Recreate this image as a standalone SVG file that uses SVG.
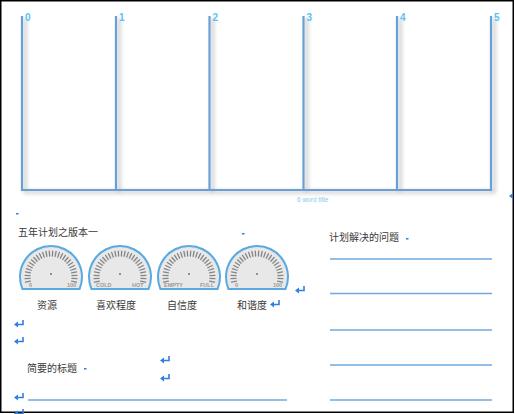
<svg xmlns="http://www.w3.org/2000/svg" xmlns:xlink="http://www.w3.org/1999/xlink" width="515" height="414" viewBox="0 0 515 414">
<style>
.cn{font-family:"Noto Sans CJK SC","Liberation Sans",sans-serif;font-size:10px;fill:#3a3a3a}
.num{font-family:"Liberation Sans",Arial,sans-serif;font-size:10px;font-weight:bold;fill:#5cc3f0}
.tl{stroke:#6b9fd6;stroke-width:2.2;fill:none}
.rule{stroke:#6fa8dc;stroke-width:1.4}
.gbody{fill:#e8e8e8;stroke:#5aa9e0;stroke-width:2}
.tk{stroke:#858585;stroke-width:1.3;stroke-linecap:round}
.gl{font-family:"Liberation Sans",Arial,sans-serif;font-size:5.5px;font-weight:bold;fill:#9a9a9a}
.ret{fill:none;stroke:#2f7fe0;stroke-width:1.6}
.reth{fill:#2f7fe0}
</style>
<defs>
<filter id="sh" x="-20%" y="-20%" width="140%" height="140%">
<feDropShadow dx="3" dy="2" stdDeviation="2" flood-color="#000" flood-opacity="0.3"/>
</filter>
<g id="ticks">
<line class="tk" x1="0" y1="-26" x2="0" y2="-21" transform="rotate(-101.25)"/>
<line class="tk" x1="0" y1="-26" x2="0" y2="-21" transform="rotate(-93.75)"/>
<line class="tk" x1="0" y1="-26" x2="0" y2="-21" transform="rotate(-86.25)"/>
<line class="tk" x1="0" y1="-26" x2="0" y2="-21" transform="rotate(-78.75)"/>
<line class="tk" x1="0" y1="-26" x2="0" y2="-21" transform="rotate(-71.25)"/>
<line class="tk" x1="0" y1="-26" x2="0" y2="-21" transform="rotate(-63.75)"/>
<line class="tk" x1="0" y1="-26" x2="0" y2="-21" transform="rotate(-56.25)"/>
<line class="tk" x1="0" y1="-26" x2="0" y2="-21" transform="rotate(-48.75)"/>
<line class="tk" x1="0" y1="-26" x2="0" y2="-21" transform="rotate(-41.25)"/>
<line class="tk" x1="0" y1="-26" x2="0" y2="-21" transform="rotate(-33.75)"/>
<line class="tk" x1="0" y1="-26" x2="0" y2="-21" transform="rotate(-26.25)"/>
<line class="tk" x1="0" y1="-26" x2="0" y2="-21" transform="rotate(-18.75)"/>
<line class="tk" x1="0" y1="-26" x2="0" y2="-21" transform="rotate(-11.25)"/>
<line class="tk" x1="0" y1="-26" x2="0" y2="-21" transform="rotate(-3.75)"/>
<line class="tk" x1="0" y1="-26" x2="0" y2="-21" transform="rotate(3.75)"/>
<line class="tk" x1="0" y1="-26" x2="0" y2="-21" transform="rotate(11.25)"/>
<line class="tk" x1="0" y1="-26" x2="0" y2="-21" transform="rotate(18.75)"/>
<line class="tk" x1="0" y1="-26" x2="0" y2="-21" transform="rotate(26.25)"/>
<line class="tk" x1="0" y1="-26" x2="0" y2="-21" transform="rotate(33.75)"/>
<line class="tk" x1="0" y1="-26" x2="0" y2="-21" transform="rotate(41.25)"/>
<line class="tk" x1="0" y1="-26" x2="0" y2="-21" transform="rotate(48.75)"/>
<line class="tk" x1="0" y1="-26" x2="0" y2="-21" transform="rotate(56.25)"/>
<line class="tk" x1="0" y1="-26" x2="0" y2="-21" transform="rotate(63.75)"/>
<line class="tk" x1="0" y1="-26" x2="0" y2="-21" transform="rotate(71.25)"/>
<line class="tk" x1="0" y1="-26" x2="0" y2="-21" transform="rotate(78.75)"/>
<line class="tk" x1="0" y1="-26" x2="0" y2="-21" transform="rotate(86.25)"/>
<line class="tk" x1="0" y1="-26" x2="0" y2="-21" transform="rotate(93.75)"/>
<line class="tk" x1="0" y1="-26" x2="0" y2="-21" transform="rotate(101.25)"/>
</g>
<g id="gauge">
<path class="gbody" d="M -28.6 12 A 31 31 0 1 1 28.6 12 Z"/>
<use xlink:href="#ticks" href="#ticks"/>
<circle cx="0" cy="-3" r="1" fill="#777"/>
</g>
<g id="ret">
<path class="ret" d="M 7 -6 V -1.5 H 1"/>
<path class="reth" d="M -2 -1.5 L 2 -4.5 L 2 1.5 Z"/>
</g>
</defs>

<rect x="0.75" y="0.75" width="512.5" height="411.5" fill="#fff" stroke="#000" stroke-width="1.5"/>

<g id="connectors" filter="url(#sh)">
<path class="tl" d="M 22 16 V 190 H 491 V 16"/>
<line class="tl" x1="116" y1="16" x2="116" y2="190"/>
<line class="tl" x1="209.5" y1="16" x2="209.5" y2="190"/>
<line class="tl" x1="303.5" y1="16" x2="303.5" y2="190"/>
<line class="tl" x1="397" y1="16" x2="397" y2="190"/>
</g>

<g id="timeline-labels">
<text class="num" x="25" y="21">0</text>
<text class="num" x="119" y="21">1</text>
<text class="num" x="212.5" y="21">2</text>
<text class="num" x="306.5" y="21">3</text>
<text class="num" x="400" y="21">4</text>
<text class="num" x="494" y="21">5</text>
<text x="297" y="202" font-family="Liberation Sans,Arial,sans-serif" font-size="6.5" fill="#8cc8ee">6 word title</text>
</g>

<g id="marks" fill="#2f7fe0">
<rect x="16" y="213" width="2.5" height="1.5"/>
<rect x="242" y="233" width="2.5" height="1.5"/>
<rect x="406" y="238" width="2.5" height="1.5"/>
<rect x="84" y="368" width="2.5" height="1.5"/>
<path d="M 509 196 L 513 193 L 513 199 Z"/>
</g>

<g id="title-left"><text class="cn" x="18" y="236">五年计划之版本一</text></g>
<g id="title-right"><text class="cn" x="329" y="241">计划解决的问题</text></g>

<g id="gauge1" transform="translate(51,277)">
<use xlink:href="#gauge" href="#gauge"/>
<text class="gl" x="-22" y="10">0</text>
<text class="gl" x="16" y="10">100</text>
</g>
<g id="gauge2" transform="translate(120,277)">
<use xlink:href="#gauge" href="#gauge"/>
<text class="gl" x="-24" y="10">COLD</text>
<text class="gl" x="12" y="10">HOT</text>
</g>
<g id="gauge3" transform="translate(189,277)">
<use xlink:href="#gauge" href="#gauge"/>
<text class="gl" x="-25" y="10">EMPTY</text>
<text class="gl" x="11" y="10">FULL</text>
</g>
<g id="gauge4" transform="translate(257,277)">
<use xlink:href="#gauge" href="#gauge"/>
<text class="gl" x="-22" y="10">0</text>
<text class="gl" x="16" y="10">100</text>
</g>

<g id="gauge-labels">
<text class="cn" x="47" y="309" text-anchor="middle">资源</text>
<text class="cn" x="116" y="309" text-anchor="middle">喜欢程度</text>
<text class="cn" x="182" y="309" text-anchor="middle">自信度</text>
<text class="cn" x="252" y="309" text-anchor="middle">和谐度</text>
</g>

<g id="returns">
<use xlink:href="#ret" href="#ret" x="297" y="292"/>
<use xlink:href="#ret" href="#ret" x="272" y="306"/>
<use xlink:href="#ret" href="#ret" x="16" y="326"/>
<use xlink:href="#ret" href="#ret" x="16" y="343"/>
<use xlink:href="#ret" href="#ret" x="162" y="362"/>
<use xlink:href="#ret" href="#ret" x="162" y="380"/>
<use xlink:href="#ret" href="#ret" x="16" y="399"/>
<use xlink:href="#ret" href="#ret" x="16" y="415"/>
</g>

<g id="summary"><text class="cn" x="27" y="372">简要的标题</text></g>

<g id="rules">
<line class="rule" x1="330" y1="259" x2="492" y2="259"/>
<line class="rule" x1="330" y1="293.5" x2="492" y2="293.5"/>
<line class="rule" x1="330" y1="330" x2="492" y2="330"/>
<line class="rule" x1="330" y1="365" x2="492" y2="365"/>
<line class="rule" x1="330" y1="400" x2="492" y2="400"/>
<line class="rule" x1="28" y1="400" x2="287" y2="400"/>
</g>
</svg>
